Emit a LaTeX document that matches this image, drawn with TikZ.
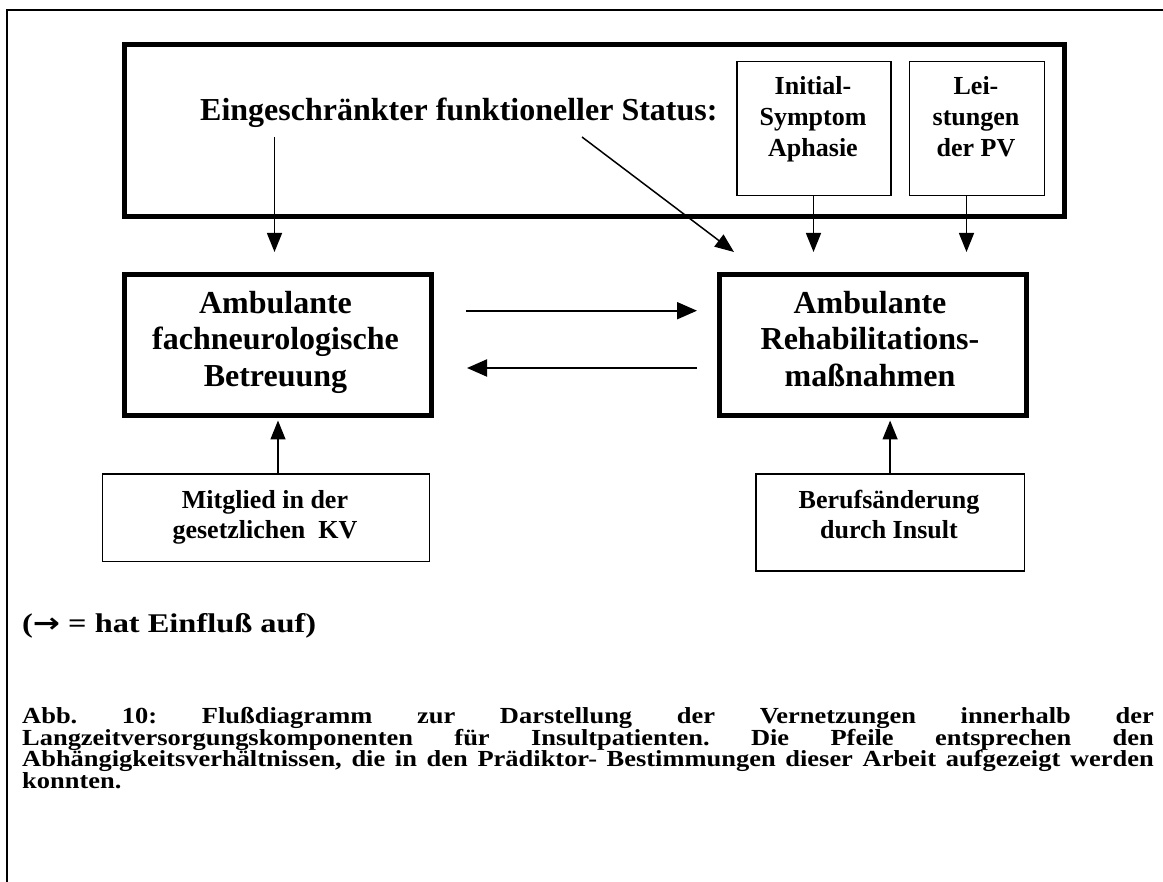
\documentclass[tikz,border=0pt]{standalone}
\usepackage{fontspec}
\setmainfont{Liberation Serif}
\newfontfamily\symfont{DejaVu Sans}
\usetikzlibrary{arrows.meta,calc}
\begin{document}
\begin{tikzpicture}[x=1pt,y=-1pt,
  thickbox/.style={draw,line width=5pt,inner sep=0pt,anchor=north west},
  thinbox/.style={draw,line width=1.5pt,inner sep=0pt,anchor=north west},
  bigfont/.style={font=\fontsize{32}{36.7}\selectfont\bfseries,align=center,inner sep=0pt,anchor=base},
  smallfont/.style={font=\fontsize{26}{31}\selectfont\bfseries,align=center,inner sep=0pt,anchor=base},
  lowfont/.style={font=\fontsize{26}{30}\selectfont\bfseries,align=center,inner sep=0pt,anchor=base},
  conn/.style={line width=1.5pt,-{Triangle[length=19pt,width=15pt]}},
  hconn/.style={line width=2pt,-{Triangle[length=20pt,width=17pt]}}
]
\useasboundingbox (0,0) rectangle (1163,882);
% outer frame (top and left only)
\draw[line width=2pt] (1163,10) -- (7,10) -- (7,882);

% big status box
\node[thickbox,minimum width=940.5pt,minimum height=172pt] (status) at (121.5,42) {};
\node[font=\fontsize{32}{36.7}\selectfont\bfseries,inner sep=0pt,anchor=base west] (title) at (200,120.7) {Eingeschränkter funktioneller Status:};
\node[thinbox,minimum width=154pt,minimum height=134pt] (init) at (736,61) {};
\node[smallfont] (inittext) at (813,157) {Initial-\\Symptom\\Aphasie};
\node[thinbox,minimum width=135pt,minimum height=134pt] (pv) at (908.5,61) {};
\node[smallfont] (pvtext) at (976,157) {Lei-\\stungen\\der PV};

% main boxes
\node[thickbox,minimum width=307pt,minimum height=140.5pt] (neuro) at (122,272.5) {};
\node[bigfont] (neurotext) at (275.5,386.7) {Ambulante\\fachneurologische\\Betreuung};
\node[thickbox,minimum width=307.5pt,minimum height=140.5pt] (reha) at (716.5,272.5) {};
\node[bigfont] (rehatext) at (870,386.7) {Ambulante\\Rehabilitations-\\maßnahmen};

% lower boxes
\node[thinbox,minimum width=327pt,minimum height=87.5pt] (kv) at (101.6,473.3) {};
\node[lowfont] (kvtext) at (265,538.3) {Mitglied in der\\gesetzlichen\ \ KV};
\node[thinbox,minimum width=268.7pt,minimum height=97pt] (beruf) at (755,473.3) {};
\node[lowfont] (beruftext) at (889,538.3) {Berufsänderung\\durch Insult};

% connector end points
\coordinate (a1s) at (274.5,137);
\coordinate (a1e) at (274.5,252);
\coordinate (a2s) at (582,137);
\coordinate (a2e) at (734,252);
\coordinate (a3e) at (813.5,252);
\coordinate (a4e) at (966.5,252);
\coordinate (h1s) at (466,310.7);
\coordinate (h1e) at (697,310.7);
\coordinate (h2s) at (697,368);
\coordinate (h2e) at (467,368);

\draw[conn] (a1s) -- (a1e);
\draw[conn] (a2s) -- (a2e);
\draw[conn] (init.south -| a3e) -- (a3e);
\draw[conn] (pv.south -| a4e) -- (a4e);
\draw[hconn] (h1s) -- (h1e);
\draw[hconn] (h2s) -- (h2e);
\draw[conn] (kv.north -| neuro.south) -- ([yshift=-2.5pt]neuro.south);
\draw[conn] (beruf.north) -- ([yshift=-2.5pt]reha.south -| beruf.north);

% legend
\node[inner sep=0pt,anchor=base west] (legend) at (22,632) {\scalebox{1.2}[1]{\fontsize{27}{30}\selectfont\bfseries ({\symfont\bfseries →} = hat Einfluß auf)}};

% caption
\node[inner sep=0pt,anchor=base west] (caption) at (22,723.3) {\scalebox{1.15}[1]{\parbox[t]{984pt}{\fontsize{23}{21.7}\selectfont\bfseries\frenchspacing\tolerance=10000\hyphenpenalty=10000
Abb. 10: Flußdiagramm zur Darstellung der Vernetzungen innerhalb der\linebreak
Langzeitversorgungskomponenten für Insultpatienten. Die Pfeile entsprechen den\linebreak
Abhängigkeitsverhältnissen, die in den Prädiktor- Bestimmungen dieser Arbeit aufgezeigt werden\linebreak
konnten.}}};
\end{tikzpicture}
\end{document}
